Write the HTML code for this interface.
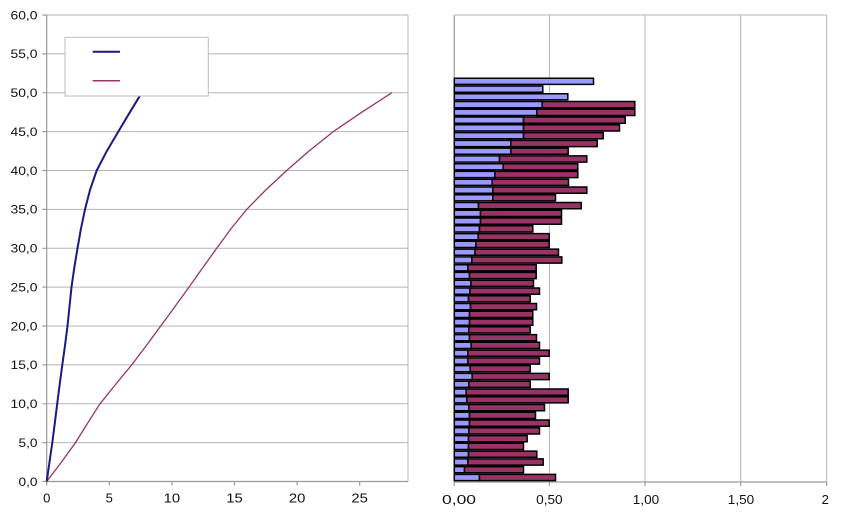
<!DOCTYPE html>
<html>
<head>
<meta charset="utf-8">
<style>
html,body{margin:0;padding:0;background:#fff;}
svg{display:block;}
text{font-family:"Liberation Sans",Arial,sans-serif;fill:#111;}
</style>
</head>
<body>
<svg width="850" height="514" viewBox="0 0 850 514" xmlns="http://www.w3.org/2000/svg">
<rect x="0" y="0" width="850" height="514" fill="#fff"/>

<path fill="none" stroke="#b4b4b4" stroke-width="1" d="M46.7 15H408M46.7 53.9H408M46.7 92.8H408M46.7 131.6H408M46.7 170.5H408M46.7 209.4H408M46.7 248.3H408M46.7 287.1H408M46.7 326H408M46.7 364.9H408M46.7 403.8H408M46.7 442.6H408M408 15V481.5"/>
<path fill="none" stroke="#9a9a9a" stroke-width="1.2" d="M46.7 15V481.5M46.7 481.5H408M42.5 15h4.2M42.5 53.9h4.2M42.5 92.8h4.2M42.5 131.6h4.2M42.5 170.5h4.2M42.5 209.4h4.2M42.5 248.3h4.2M42.5 287.1h4.2M42.5 326h4.2M42.5 364.9h4.2M42.5 403.8h4.2M42.5 442.6h4.2M42.5 481.5h4.2M46.7 481.5v4M109.3 481.5v4M171.9 481.5v4M234.5 481.5v4M297.1 481.5v4M359.7 481.5v4"/>

<g font-size="12" text-anchor="end" lengthAdjust="spacingAndGlyphs">
<text x="37.5" y="19.3" textLength="27" lengthAdjust="spacingAndGlyphs">60,0</text>
<text x="37.5" y="58.2" textLength="27" lengthAdjust="spacingAndGlyphs">55,0</text>
<text x="37.5" y="97.1" textLength="27" lengthAdjust="spacingAndGlyphs">50,0</text>
<text x="37.5" y="135.9" textLength="27" lengthAdjust="spacingAndGlyphs">45,0</text>
<text x="37.5" y="174.8" textLength="27" lengthAdjust="spacingAndGlyphs">40,0</text>
<text x="37.5" y="213.7" textLength="27" lengthAdjust="spacingAndGlyphs">35,0</text>
<text x="37.5" y="252.6" textLength="27" lengthAdjust="spacingAndGlyphs">30,0</text>
<text x="37.5" y="291.4" textLength="27" lengthAdjust="spacingAndGlyphs">25,0</text>
<text x="37.5" y="330.3" textLength="27" lengthAdjust="spacingAndGlyphs">20,0</text>
<text x="37.5" y="369.2" textLength="27" lengthAdjust="spacingAndGlyphs">15,0</text>
<text x="37.5" y="408.1" textLength="27" lengthAdjust="spacingAndGlyphs">10,0</text>
<text x="37.5" y="446.9" textLength="19" lengthAdjust="spacingAndGlyphs">5,0</text>
<text x="37.5" y="485.8" textLength="19" lengthAdjust="spacingAndGlyphs">0,0</text>
</g>
<g font-size="13" text-anchor="middle">
<text x="46.7" y="502.5">0</text>
<text x="109.3" y="502.5">5</text>
<text x="171.9" y="502.5" textLength="16.5" lengthAdjust="spacingAndGlyphs">10</text>
<text x="234.5" y="502.5" textLength="16.5" lengthAdjust="spacingAndGlyphs">15</text>
<text x="297.1" y="502.5" textLength="16.5" lengthAdjust="spacingAndGlyphs">20</text>
<text x="359.7" y="502.5" textLength="16.5" lengthAdjust="spacingAndGlyphs">25</text>
</g>

<polyline fill="none" stroke="#993366" stroke-width="1.3" stroke-linejoin="round" points="46.7,481.5 61.4,462.1 75.5,442.6 87.6,423.2 100,403.8 115.6,384.4 131.7,364.9 146.4,345.5 160.7,326 174.9,306.6 189,287.1 202.7,267.7 216.7,248.3 230.9,228.9 246.7,209.4 265.7,190 286.7,170.5 308.9,151.1 333.3,131.6 361.8,112.2 391.7,92.8"/>
<polyline fill="none" stroke="#1a1a80" stroke-width="2" stroke-linejoin="round" points="46.7,481.5 49.5,462.1 52.3,442.6 54.8,423.2 57.2,403.8 59.7,384.4 62.3,364.9 65,345.5 67.5,326 69.5,306.6 71.5,287.1 74.3,267.7 77.5,248.3 80.9,228.9 85,209.4 90,190 96.7,170.5 106.8,151.1 118.3,131.6 129.9,112.2 141.7,92.8"/>

<rect x="65" y="37.3" width="143.3" height="58.7" fill="#fff" stroke="#bdbdbd" stroke-width="1"/>
<path d="M92.7 51.7H120" stroke="#1a1a80" stroke-width="2"/>
<path d="M92.7 80.7H120" stroke="#993366" stroke-width="1.5"/>

<path fill="none" stroke="#b4b4b4" stroke-width="1" d="M454.3 15H826.7M826.7 15V482M549.4 15V482M645 15V482M740.7 15V482"/>
<path fill="none" stroke="#9a9a9a" stroke-width="1.2" d="M454.3 15V482M454.3 482H826.7M454.3 482v4M549.4 482v4M645 482v4M740.7 482v4M826.7 482v4"/>

<g font-size="13" text-anchor="middle">
<text x="459" y="504" textLength="34" lengthAdjust="spacingAndGlyphs">0,00</text>
<text x="549.4" y="504" textLength="26.5" lengthAdjust="spacingAndGlyphs">0,50</text>
<text x="646" y="504" textLength="26.5" lengthAdjust="spacingAndGlyphs">1,00</text>
<text x="741" y="504" textLength="26.5" lengthAdjust="spacingAndGlyphs">1,50</text>
<text x="825.3" y="504">2</text>
</g>

<path fill="#9999ff" stroke="#000" stroke-width="1.5" stroke-linejoin="miter" d="M454.3 78.2h139.2v6.2h-139.2z M454.3 86h88.5v6.2h-88.5z M454.3 93.7h113.5v6.2h-113.5z M454.3 101.5h87.9v6.2h-87.9z M454.3 109.3h82.5v6.2h-82.5z M454.3 117h69.2v6.2h-69.2z M454.3 124.8h69.2v6.2h-69.2z M454.3 132.6h69.2v6.2h-69.2z M454.3 140.4h56.5v6.2h-56.5z M454.3 148.1h56.5v6.2h-56.5z M454.3 155.9h45.2v6.2h-45.2z M454.3 163.7h48.9v6.2h-48.9z M454.3 171.4h40.5v6.2h-40.5z M454.3 179.2h37.9v6.2h-37.9z M454.3 187h38.5v6.2h-38.5z M454.3 194.7h38.5v6.2h-38.5z M454.3 202.5h24.2v6.2h-24.2z M454.3 210.3h26.2v6.2h-26.2z M454.3 218h26.2v6.2h-26.2z M454.3 225.8h25.2v6.2h-25.2z M454.3 233.6h23.9v6.2h-23.9z M454.3 241.3h21.5v6.2h-21.5z M454.3 249.1h20.5v6.2h-20.5z M454.3 256.9h17.5v6.2h-17.5z M454.3 264.7h13.5v6.2h-13.5z M454.3 272.4h15.2v6.2h-15.2z M454.3 280.2h16.7v6.2h-16.7z M454.3 288h15.5v6.2h-15.5z M454.3 295.7h14.2v6.2h-14.2z M454.3 303.5h16.2v6.2h-16.2z M454.3 311.3h15.2v6.2h-15.2z M454.3 319h15.2v6.2h-15.2z M454.3 326.8h14.5v6.2h-14.5z M454.3 334.6h15.2v6.2h-15.2z M454.3 342.3h16.9v6.2h-16.9z M454.3 350.1h13.5v6.2h-13.5z M454.3 357.9h13.5v6.2h-13.5z M454.3 365.6h15.9v6.2h-15.9z M454.3 373.4h17.9v6.2h-17.9z M454.3 381.2h14.5v6.2h-14.5z M454.3 389h11.9v6.2h-11.9z M454.3 396.7h12.5v6.2h-12.5z M454.3 404.5h14.5v6.2h-14.5z M454.3 412.3h15.2v6.2h-15.2z M454.3 420h15.2v6.2h-15.2z M454.3 427.8h14.5v6.2h-14.5z M454.3 435.6h14.2v6.2h-14.2z M454.3 443.3h14.2v6.2h-14.2z M454.3 451.1h14.2v6.2h-14.2z M454.3 458.9h13.5v6.2h-13.5z M454.3 466.6h10.2v6.2h-10.2z M454.3 474.4h25.2v6.2h-25.2z"/>
<path fill="#993366" stroke="#000" stroke-width="1.5" stroke-linejoin="miter" d="M542.2 101.5h92.6v6.2h-92.6z M536.8 109.3h98v6.2h-98z M523.5 117h101.7v6.2h-101.7z M523.5 124.8h96v6.2h-96z M523.5 132.6h79.7v6.2h-79.7z M510.8 140.4h86.4v6.2h-86.4z M510.8 148.1h57.4v6.2h-57.4z M499.5 155.9h87.3v6.2h-87.3z M503.2 163.7h74.6v6.2h-74.6z M494.8 171.4h83v6.2h-83z M492.2 179.2h76.3v6.2h-76.3z M492.8 187h94v6.2h-94z M492.8 194.7h62.7v6.2h-62.7z M478.5 202.5h102.7v6.2h-102.7z M480.5 210.3h81v6.2h-81z M480.5 218h81v6.2h-81z M479.5 225.8h53.3v6.2h-53.3z M478.2 233.6h71v6.2h-71z M475.8 241.3h73.4v6.2h-73.4z M474.8 249.1h83.7v6.2h-83.7z M471.8 256.9h90v6.2h-90z M467.8 264.7h68.4v6.2h-68.4z M469.5 272.4h66.7v6.2h-66.7z M471 280.2h62.5v6.2h-62.5z M469.8 288h69.7v6.2h-69.7z M468.5 295.7h61.7v6.2h-61.7z M470.5 303.5h66v6.2h-66z M469.5 311.3h63.3v6.2h-63.3z M469.5 319h63.3v6.2h-63.3z M468.8 326.8h61.4v6.2h-61.4z M469.5 334.6h67v6.2h-67z M471.2 342.3h68.3v6.2h-68.3z M467.8 350.1h81.4v6.2h-81.4z M467.8 357.9h71.7v6.2h-71.7z M470.2 365.6h60v6.2h-60z M472.2 373.4h77v6.2h-77z M468.8 381.2h61.4v6.2h-61.4z M466.2 389h102v6.2h-102z M466.8 396.7h101.4v6.2h-101.4z M468.8 404.5h75.7v6.2h-75.7z M469.5 412.3h66v6.2h-66z M469.5 420h79.7v6.2h-79.7z M468.8 427.8h70.7v6.2h-70.7z M468.5 435.6h58.7v6.2h-58.7z M468.5 443.3h55v6.2h-55z M468.5 451.1h68.3v6.2h-68.3z M467.8 458.9h75.4v6.2h-75.4z M464.5 466.6h59v6.2h-59z M479.5 474.4h76v6.2h-76z"/>
</svg>
</body>
</html>
